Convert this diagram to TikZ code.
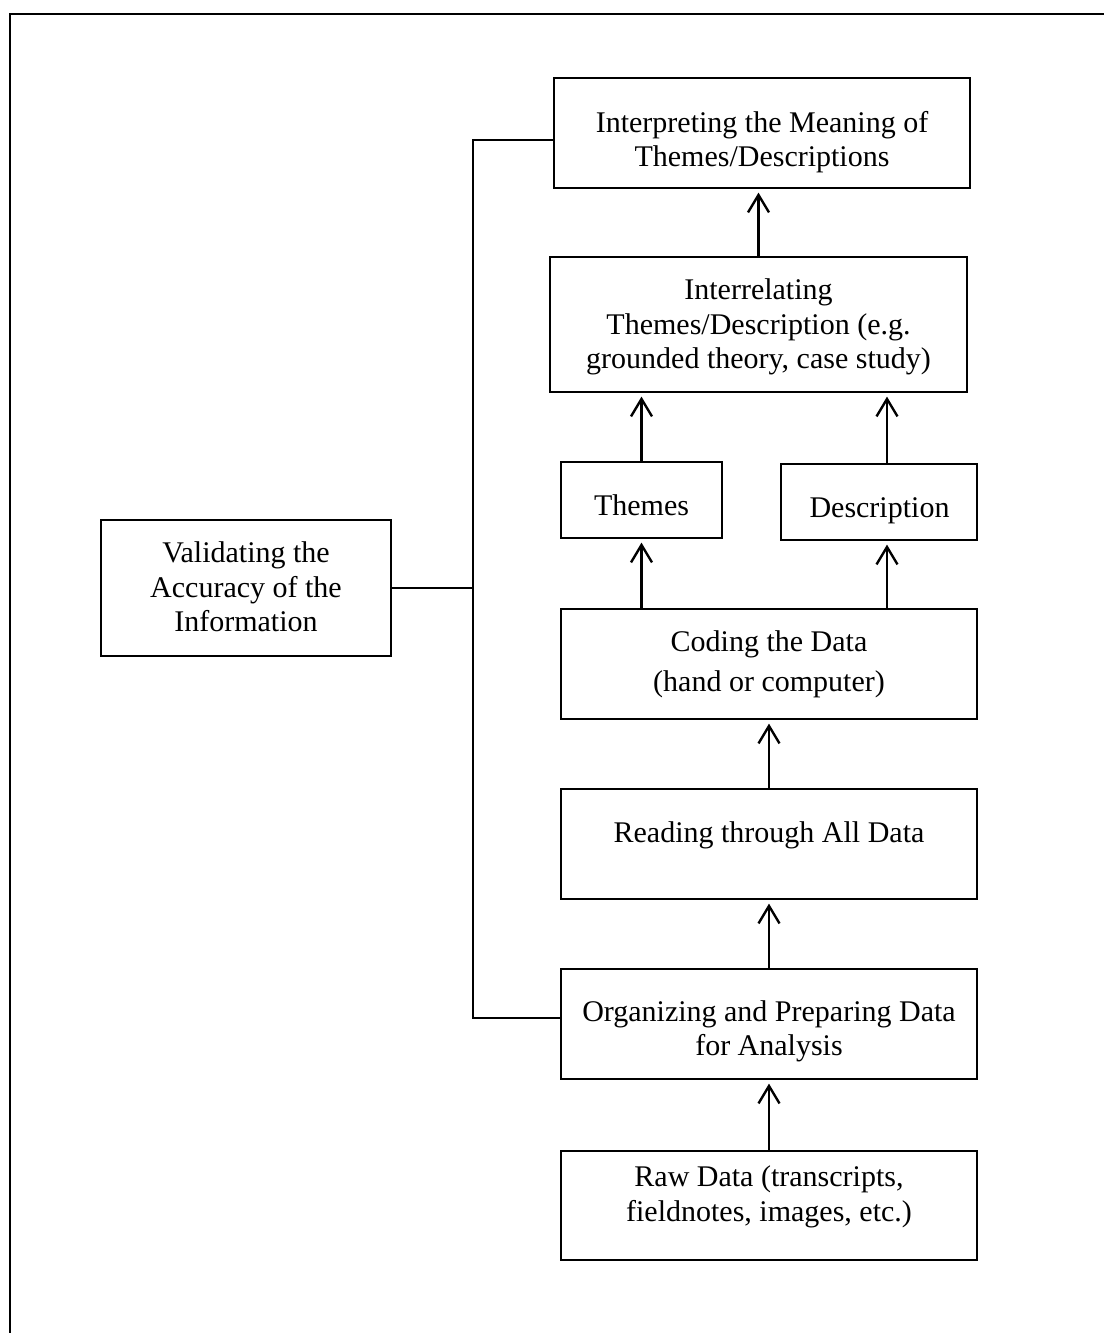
\documentclass[tikz,border=0pt]{standalone}
\usepackage{fontspec}
\setmainfont{Liberation Serif}
\usetikzlibrary{arrows.meta}
\begin{document}
\begin{tikzpicture}[x=0.4pt,y=-0.4pt,
  box/.style 2 args={draw, line width=0.5pt, rectangle, inner sep=0pt,
    minimum width=#1*0.4pt, minimum height=#2*0.4pt},
  lbl/.style={align=center, inner sep=0pt, font=\fontsize{12pt}{13.8pt}\selectfont},
  flow/.style={line width=0.95pt,
    -{Straight Barb[length=7pt,width=8.4pt,line width=0.95pt]}, shorten >=1.6pt},
  link/.style={line width=0.65pt}]
\useasboundingbox (0,0) rectangle (1104,1333);
% page frame
\draw[line width=0.8pt] (9.5,1333) -- (9.5,14) -- (1104,14);

% boxes
\node[box={416}{110}] (interp)   at (762,133) {};
\node[box={417}{135}] (interrel) at (758.5,324.5) {};
\node[box={161}{76}]  (themes)   at (641.5,500) {};
\node[box={196}{76}]  (desc)     at (879,502) {};
\node[box={416}{110}] (coding)   at (769,664) {};
\node[box={416}{110}] (reading)  at (769,844) {};
\node[box={416}{110}] (org)      at (769,1024) {};
\node[box={416}{109}] (raw)      at (769,1205.5) {};
\node[box={290}{136}] (valid)    at (246,588) {};

% texts
\node[lbl] (tinterp)   at (762,142) {Interpreting the Meaning of\\Themes/Descriptions};
\node[lbl] (tinterrel) at (758.5,327) {Interrelating\\Themes/Description (e.g.\\grounded theory, case study)};
\node[lbl] (tthemes)   at (641.5,505.5) {Themes};
\node[lbl] (tdesc)     at (879.5,511) {Description};
\node[lbl] (tcoding)   at (769,664) {Coding the Data\\[2.3pt](hand or computer)};
\node[lbl] (treading)  at (769,835.5) {Reading through All Data};
\node[lbl] (torg)      at (769,1031.5) {Organizing and Preparing Data\\for Analysis};
\node[lbl] (traw)      at (769,1197) {Raw Data (transcripts,\\fieldnotes, images, etc.)};
\node[lbl] (tvalid)    at (246,587) {Validating the\\Accuracy of the\\Information};

% upward flow
\draw[flow] (raw.north) -- (org.south);
\draw[flow] (org.north) -- (reading.south);
\draw[flow] (reading.north) -- (coding.south);
\draw[flow] (coding.north -| themes.north) -- (themes.south);
\coordinate (dx) at ([xshift=3.2pt]desc.north);
\coordinate (dxs) at ([xshift=3.2pt]desc.south);
\draw[flow] (coding.north -| dxs) -- (dxs);
\draw[flow] (themes.north) -- (themes.north |- interrel.south);
\draw[flow] (dx) -- (dx |- interrel.south);
\draw[flow] (interrel.north) -- (interrel.north |- interp.south);

% validation bracket
\coordinate (spinetop) at (473,140);
\coordinate (spinebot) at (473,1018);
\draw[link] (interp.west |- spinetop) -- (spinetop) -- (spinebot) -- (org.west |- spinebot);
\draw[link] (valid.east) -- (valid.east -| spinetop);
\end{tikzpicture}
\end{document}
